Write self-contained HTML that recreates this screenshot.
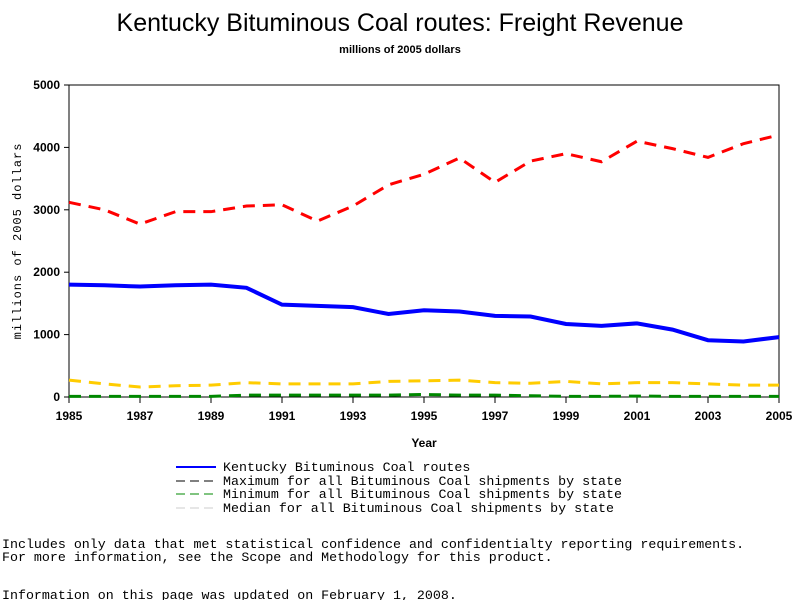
<!DOCTYPE html>
<html><head><meta charset="utf-8"><style>
body{margin:0;background:#fff;width:800px;height:600px;overflow:hidden}
svg text{font-family:"Liberation Sans",sans-serif}
.m{font-family:"Liberation Mono",monospace}
</style></head><body>
<svg width="800" height="600">
<text x="400" y="31" text-anchor="middle" font-size="25">Kentucky Bituminous Coal routes: Freight Revenue</text>
<text x="400" y="53" text-anchor="middle" font-size="11" font-weight="bold">millions of 2005 dollars</text>
<rect x="69" y="85" width="710" height="312" fill="none" stroke="#000"/>
<g id="yt"></g>
<g id="xt"></g>
<text transform="translate(21,241) rotate(-90)" text-anchor="middle" font-size="12" class="m" letter-spacing="1">millions of 2005 dollars</text>
<text x="424" y="447" text-anchor="middle" font-size="12" font-weight="bold">Year</text>
<g id="series"></g>
<g font-size="13.3" class="m">
<g><line x1="176" y1="467" x2="216" y2="467" stroke="#00f" stroke-width="2"/><text x="223" y="471" class="m">Kentucky Bituminous Coal routes</text></g>
<g><line x1="176" y1="481" x2="216" y2="481" stroke="#000" stroke-dasharray="9,5"/><text x="223" y="485" class="m">Maximum for all Bituminous Coal shipments by state</text></g>
<g><line x1="176" y1="494" x2="216" y2="494" stroke="#080" stroke-dasharray="9,5"/><text x="223" y="498" class="m">Minimum for all Bituminous Coal shipments by state</text></g>
<g><line x1="176" y1="508" x2="216" y2="508" stroke="#ccc" stroke-dasharray="9,5"/><text x="223" y="512" class="m">Median for all Bituminous Coal shipments by state</text></g>
</g>
<g font-size="13.3">
<text x="2" y="548" class="m">Includes only data that met statistical confidence and confidentialty reporting requirements.</text>
<text x="2" y="561" class="m">For more information, see the Scope and Methodology for this product.</text>
<text x="2" y="599" class="m">Information on this page was updated on February 1, 2008.</text>
</g>
</svg>
<script>
const years=[1985,1986,1987,1988,1989,1990,1991,1992,1993,1994,1995,1996,1997,1998,1999,2000,2001,2002,2003,2004,2005];
const kentucky=[1800,1790,1770,1790,1800,1750,1480,1460,1440,1330,1390,1370,1300,1290,1170,1140,1180,1080,910,890,960];
const maximum=[3120,3000,2770,2970,2970,3060,3080,2820,3060,3400,3570,3830,3440,3780,3900,3770,4100,3980,3840,4060,4200];
const median=[270,210,160,180,190,230,210,210,210,250,260,270,230,220,250,210,230,230,210,190,190];
const minimum=[10,10,10,10,10,30,30,30,30,30,40,30,30,20,10,10,15,10,10,10,10];
const yTicks=[0,1000,2000,3000,4000,5000];
const xTicks=[1985,1987,1989,1991,1993,1995,1997,1999,2001,2003,2005];
const NS="http://www.w3.org/2000/svg";
const X=v=>69+(v-1985)*710/20, Y=v=>397-v*312/5000;
function mk(t,a,p){const e=document.createElementNS(NS,t);for(const k in a)e.setAttribute(k,a[k]);p.appendChild(e);return e;}
const yt=document.getElementById('yt'),xt=document.getElementById('xt'),sg=document.getElementById('series');
yTicks.forEach(v=>{
 mk('line',{x1:64,x2:69,y1:Y(v),y2:Y(v),stroke:'#000'},yt);
 const t=mk('text',{x:60,y:Y(v)+4,'text-anchor':'end','font-size':12,'font-weight':'bold'},yt);
 
 
 t.textContent=v;
});
xTicks.forEach(v=>{
 mk('line',{x1:X(v),x2:X(v),y1:397,y2:403,stroke:'#000'},xt);
 const t=mk('text',{x:X(v),y:420,'text-anchor':'middle','font-size':12,'font-weight':'bold'},xt);
 
 
 t.textContent=v;
});
function line(data,color,w,dash,name){
 const p=mk('polyline',{points:data.map((v,i)=>X(years[i])+','+Y(v)).join(' '),fill:'none',stroke:color,'stroke-width':w},sg);
 if(dash)p.setAttribute('stroke-dasharray',dash);
 
 
}
line(median,'#fc0',3,'12,8','median-line');
line(minimum,'#080',3,'12,8','minimum-line');
line(maximum,'#f00',3,'12,8','maximum-line');
line(kentucky,'#00f',4,null,'kentucky-line');
</script>
</body></html>
